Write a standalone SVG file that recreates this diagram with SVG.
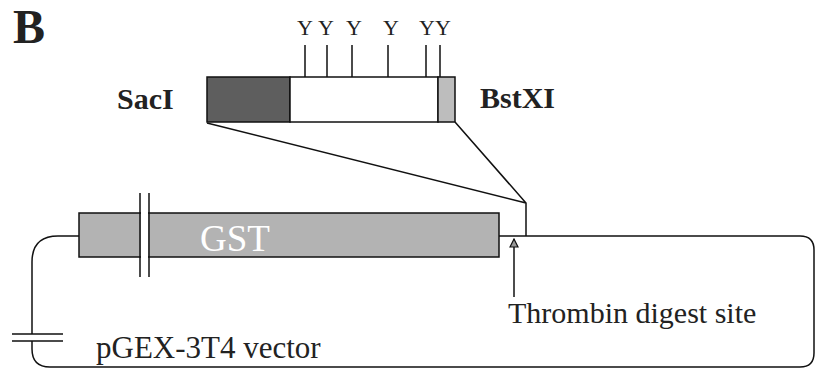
<svg xmlns="http://www.w3.org/2000/svg" width="817" height="372" viewBox="0 0 817 372">
<style>
.ln{fill:none;stroke:#111;stroke-width:1.5}
.bx{stroke:#111;stroke-width:1.5}
.t{font-family:"Liberation Serif","Times New Roman",serif;fill:#222}
.b{font-weight:bold}
</style>
<defs>
<marker id="ah" viewBox="0 0 10 10" refX="9" refY="5" markerWidth="10" markerHeight="10" orient="auto" markerUnits="userSpaceOnUse">
<path d="M1,1 L9,5 L1,9 Z" fill="#999" stroke="#111" stroke-width="1.2"/>
</marker>
</defs>
<text class="t b" x="13" y="43" font-size="48">B</text>
<g id="insert">
<rect class="bx" x="207" y="77" width="83" height="45" fill="#5e5e5e"/>
<rect class="bx" x="290" y="77" width="148" height="45" fill="#fff"/>
<rect class="bx" x="438" y="77" width="17" height="45" fill="#bdbdbd"/>
<text class="t b" x="117" y="109" font-size="30">SacI</text>
<text class="t b" x="480" y="108" font-size="30">BstXI</text>
</g>
<g id="tyrosines" class="t" font-size="22" text-anchor="middle">
<text x="305" y="35">Y</text>
<text x="326" y="35">Y</text>
<text x="354" y="35">Y</text>
<text x="391" y="35">Y</text>
<text x="427" y="35">Y</text>
<text x="443" y="35">Y</text>
<path class="ln" d="M305,45V77M327,45V77M352,45V77M388,45V77M426,45V77M440,45V77"/>
</g>
<g id="gst">
<rect class="bx" x="79" y="213" width="420" height="44" fill="#b3b3b3"/>
<rect x="141" y="211" width="7" height="48" fill="#fff"/>
<path class="ln" d="M140,193V277M149,193V277"/>
<text x="200" y="251" font-size="37" font-family="Liberation Serif, serif" fill="#fff">GST</text>
</g>
<g id="connectors">
<path class="ln" d="M207,123L526,203M455,122L526,203V236"/>
<path class="ln" d="M499,236H800Q814,236 814,250V353Q814,367 800,367H50Q32,367 32,349V341"/>
<path class="ln" d="M32,334V262Q32,236 58,236H79"/>
<path class="ln" d="M12,334H63M12,341H63"/>
<path class="ln" d="M514,297V239" marker-end="url(#ah)"/>
</g>
<g id="labels">
<text class="t" x="508" y="323" font-size="30">Thrombin digest site</text>
<text class="t" x="96" y="358" font-size="31">pGEX-3T4 vector</text>
</g>
</svg>
